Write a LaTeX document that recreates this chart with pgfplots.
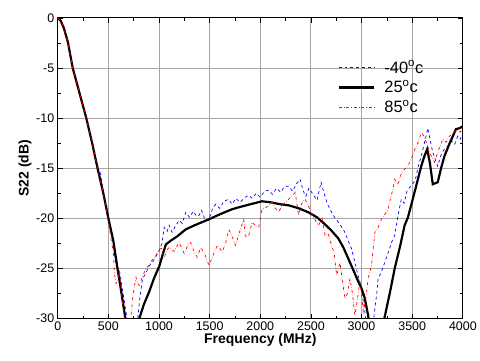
\documentclass[border=0pt]{standalone}
\usepackage{pgfplots}
\pgfplotsset{compat=1.18}
\usepackage{fontspec}
\setmainfont{Liberation Sans}
\begin{document}
\begin{tikzpicture}
\begin{axis}[
  scale only axis, width=407bp, height=302bp,
  xmin=0, xmax=4000, ymin=-30, ymax=0,
  xtick={0,500,...,4000}, ytick={-30,-25,...,0},
  minor x tick num=1, minor y tick num=1,
  tick align=inside, major tick length=5bp, minor tick length=3bp,
  grid=major, major grid style={gray!70, line width=0.9pt},
  axis line style={line width=1pt}, every tick/.style={black, line width=0.8pt},
  /pgf/number format/assume math mode=true,
  /pgf/number format/set thousands separator={},
  ticklabel style={font=\fontsize{12.5bp}{14bp}\selectfont},
  xlabel={\bfseries Frequency (MHz)}, ylabel={\bfseries S22 (dB)},
  label style={font=\fontsize{14bp}{16bp}\selectfont},
  xlabel style={yshift=4bp}, ylabel style={yshift=-2bp},
  legend style={at={(rel axis cs:0.69,0.865)}, anchor=north west, draw=none, fill=none,
    font=\fontsize{16.5bp}{18bp}\selectfont, row sep=2bp, inner sep=0pt,
    /tikz/every odd column/.append style={column sep=7bp}},
  legend cell align=left,
]
\addplot[color=blue, dashed, line width=0.7pt,
  legend image code/.code={\draw[blue, dashed, line width=0.7pt] (0bp,0bp) -- (36bp,0bp);}] coordinates {
(0,0)(30,-0.3)(60,-1)(100,-2.4)(148,-5)(215,-7.5)(282,-10)(340,-12.5)(393,-14.8)(420,-15.5)(450,-17.3)(500,-20)(550,-22.5)(570,-24.3)(590,-25)(610,-25.2)(630,-26.5)(660,-28.5)(685,-30)(700,-32)(760,-32)(790,-30)(810,-28)(838,-26)(870,-25.5)(900,-24.8)(940,-24.3)(970,-23.8)(1002,-23.2)(1030,-22.5)(1051,-20.9)(1080,-21.3)(1100,-20.7)(1130,-21.4)(1160,-20.8)(1200,-20.2)(1230,-20.5)(1264,-19.4)(1300,-19.9)(1340,-19.3)(1370,-19.8)(1395,-19.7)(1420,-19.2)(1460,-20.3)(1500,-19.9)(1530,-19.0)(1559,-18.6)(1600,-19.0)(1640,-18.3)(1690,-18.1)(1720,-18.6)(1760,-18.0)(1800,-18.4)(1850,-17.9)(1886,-17.7)(1920,-18.0)(1960,-17.5)(2000,-17.9)(2040,-17.3)(2083,-17.2)(2120,-17.6)(2160,-17.0)(2200,-17.4)(2240,-16.8)(2279,-16.8)(2320,-17.3)(2360,-16.5)(2394,-16.1)(2420,-17.2)(2450,-17.8)(2480,-17.0)(2520,-17.6)(2560,-18.2)(2600,-16.4)(2630,-17.5)(2660,-18.5)(2704,-19.4)(2740,-20.0)(2780,-20.5)(2836,-21.4)(2870,-22.3)(2900,-23.0)(2934,-24.4)(2960,-25.5)(3000,-27)(3020,-28.5)(3032,-29.3)(3050,-31)(3110,-31)(3131,-29)(3150,-27.5)(3163,-26)(3190,-25.5)(3229,-24.4)(3260,-23.5)(3300,-22.3)(3327,-21.7)(3360,-19.7)(3392,-18.1)(3420,-18.5)(3450,-17.2)(3490,-16.75)(3530,-16.2)(3560,-14.8)(3589,-13.8)(3620,-12.5)(3654,-11.0)(3680,-12.3)(3703,-13.4)(3730,-14.2)(3752,-14.8)(3780,-13.8)(3810,-13.2)(3851,-12.8)(3890,-12.3)(3920,-12.6)(3949,-11.8)(3975,-12.1)(4000,-11.5)
};
\addlegendentry{-40\textsuperscript{o}c}
\addplot[color=black, line width=2.2pt,
  legend image code/.code={\draw[black, line width=2.2pt] (0bp,0bp) -- (36bp,0bp);}] coordinates {
(0,0)(30,-0.3)(60,-1)(100,-2.4)(148,-5)(215,-7.5)(282,-10)(340,-12.5)(393,-15)(450,-17.5)(500,-20)(550,-22.3)(590,-25)(630,-27.5)(668,-30)(690,-32)(790,-32)(805,-30)(850,-28.6)(904,-27.3)(950,-26)(1002,-24.8)(1040,-23.5)(1068,-22.6)(1120,-22.2)(1180,-21.8)(1264,-21.1)(1350,-20.7)(1420,-20.4)(1493,-20.1)(1600,-19.6)(1720,-19.1)(1788,-18.9)(1900,-18.6)(2017,-18.3)(2100,-18.4)(2200,-18.6)(2279,-18.7)(2380,-19.0)(2475,-19.4)(2560,-19.9)(2639,-20.6)(2700,-21.2)(2770,-22.0)(2820,-22.9)(2868,-24.0)(2920,-25.2)(2967,-26.3)(3000,-27.0)(3032,-28)(3065,-29.7)(3080,-31)(3200,-31)(3229,-29.8)(3280,-27.4)(3327,-25)(3380,-22.8)(3425,-20.7)(3458,-19.9)(3523,-17.4)(3589,-14.8)(3620,-13.8)(3648,-13.1)(3675,-14.5)(3703,-16.6)(3752,-16.4)(3785,-15)(3818,-13.8)(3870,-12.5)(3932,-11.1)(3970,-11.0)(4000,-10.8)
};
\addlegendentry{25\textsuperscript{o}c}
\addplot[color=red, dash dot, line width=0.7pt,
  legend image code/.code={\draw[red, dash dot, line width=0.7pt] (0bp,0bp) -- (36bp,0bp);}] coordinates {
(0,0)(30,-0.3)(60,-1)(100,-2.4)(148,-5)(215,-7.5)(282,-10)(340,-12.5)(393,-15)(450,-17.5)(500,-20.2)(530,-22.3)(550,-23.5)(560,-25.5)(576,-26.5)(595,-26.0)(609,-25.3)(625,-27)(645,-29)(658,-30)(670,-32)(715,-32)(724,-29.7)(745,-27.5)(773,-25.9)(790,-26.5)(805,-26.7)(830,-26)(871,-25)(900,-24.7)(930,-24.2)(970,-23.7)(1002,-23.1)(1025,-23.0)(1051,-24)(1075,-23.2)(1100,-22.9)(1150,-23.3)(1198,-22.4)(1248,-23.5)(1280,-22.8)(1313,-22.4)(1345,-23.3)(1378,-23.9)(1411,-22.9)(1450,-23.5)(1493,-24.7)(1530,-23.8)(1575,-22.7)(1600,-23.0)(1624,-23.4)(1660,-22.4)(1690,-21.1)(1720,-21.8)(1755,-22.7)(1800,-21.2)(1837,-20.1)(1853,-21.9)(1886,-21.7)(1919,-20.4)(1950,-20.7)(1984,-20.9)(2017,-19.1)(2060,-18.9)(2115,-18.4)(2150,-19.0)(2181,-19.4)(2215,-18.7)(2247,-18.4)(2290,-18.0)(2345,-17.4)(2377,-19.7)(2410,-18.5)(2443,-18.1)(2480,-18.9)(2520,-19.8)(2574,-20.7)(2610,-20.0)(2639,-21.7)(2670,-21.5)(2704,-22.7)(2730,-23.5)(2754,-25.7)(2787,-24.4)(2810,-26.2)(2836,-28)(2860,-27.5)(2885,-26)(2910,-27.5)(2934,-29.7)(2960,-28)(2983,-26.3)(3000,-27.5)(3016,-29.3)(3040,-28.2)(3065,-26)(3098,-24.7)(3115,-23)(3131,-21.4)(3160,-21.0)(3196,-20.1)(3230,-19.6)(3261,-19.1)(3290,-17.8)(3310,-17.1)(3327,-16.1)(3360,-16.6)(3390,-15.6)(3425,-15.1)(3460,-14.7)(3490,-14.1)(3530,-13.0)(3560,-12.4)(3589,-11.4)(3615,-11.8)(3638,-12.4)(3680,-13.6)(3720,-14.4)(3760,-13.2)(3802,-12.1)(3835,-12.4)(3867,-11.8)(3900,-11.6)(3949,-11.1)(3975,-11.4)(4000,-11)
};
\addlegendentry{85\textsuperscript{o}c}
\end{axis}
\path[use as bounding box] (-58bp,-42bp) rectangle (422bp,320bp);
\end{tikzpicture}
\end{document}
